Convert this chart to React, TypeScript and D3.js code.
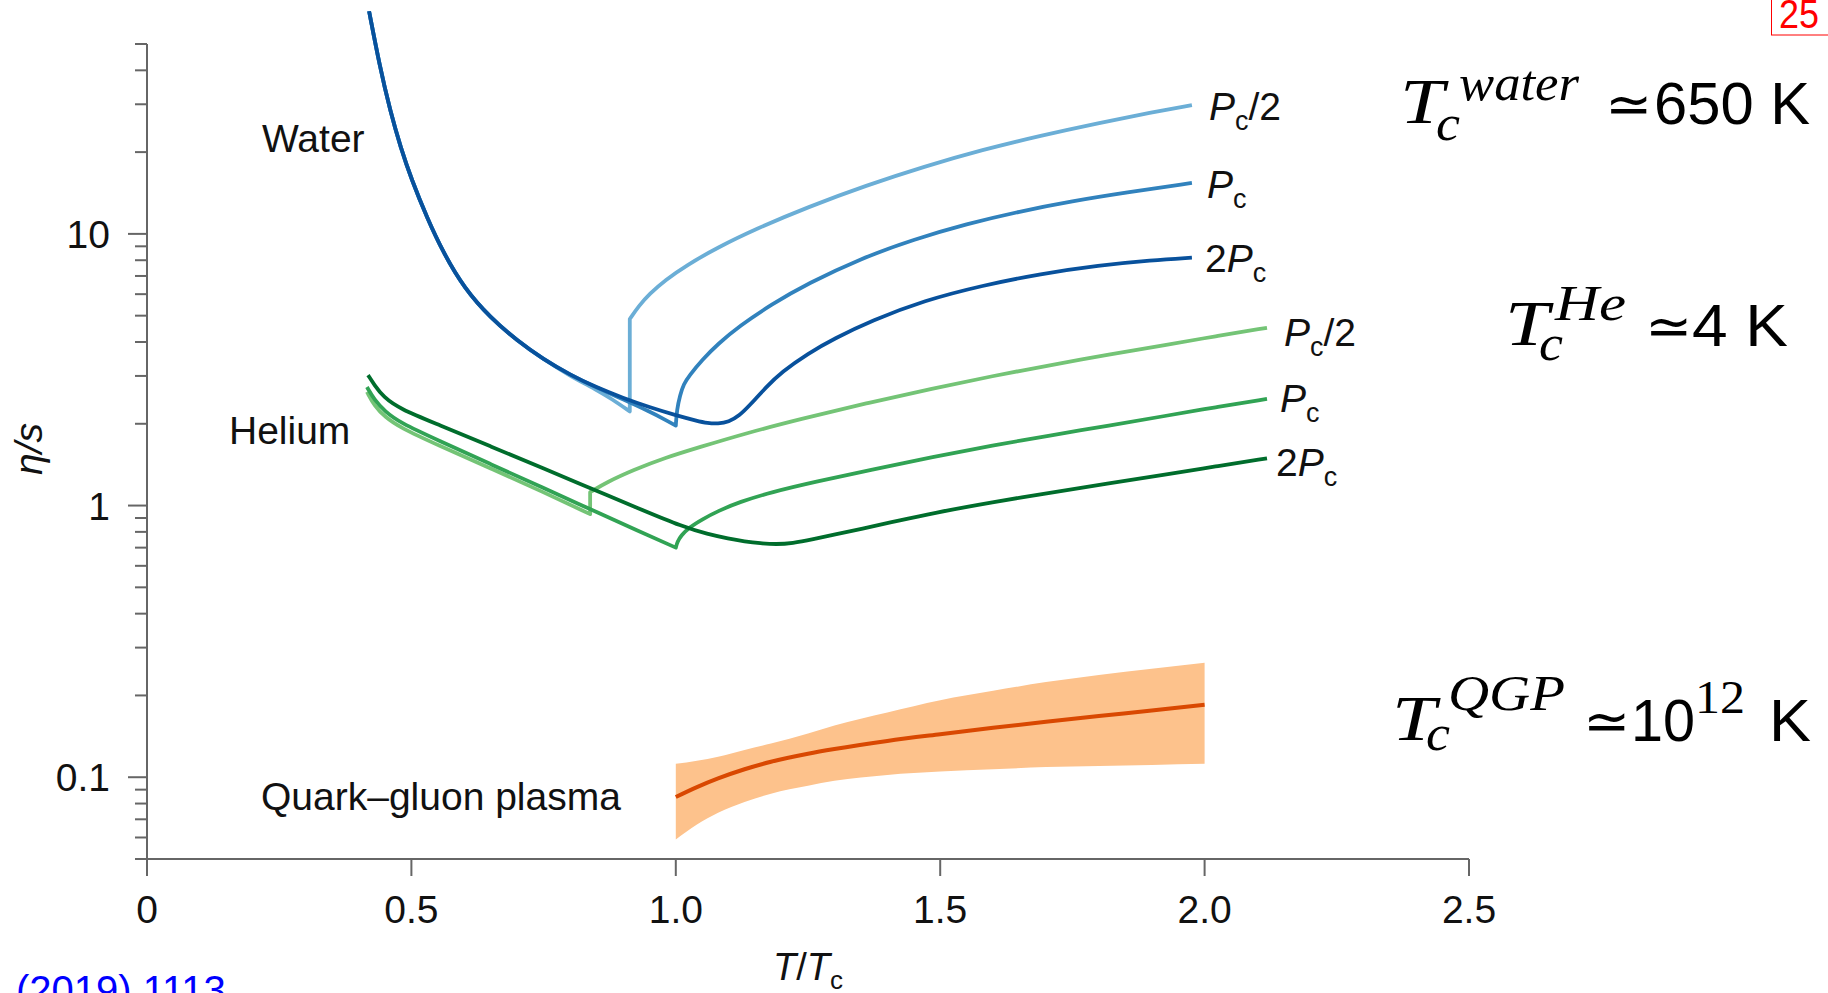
import React from 'react';
import * as d3 from 'd3';

const W = 1828;
const H = 993;

// ---- axis ticks ----
const xTickValues = [0, 0.5, 1.0, 1.5, 2.0, 2.5];
const xTickLabels = ['0', '0.5', '1.0', '1.5', '2.0', '2.5'];
const yMajorValues = [0.1, 1, 10];
const yMajorLabels = ['0.1', '1', '10'];
const yMinorValues = [0.05, 0.06, 0.07, 0.08, 0.09, 0.2, 0.3, 0.4, 0.5, 0.6, 0.7, 0.8, 0.9, 2, 3, 4, 5, 6, 7, 8, 9, 20, 30, 40, 50];

// ---- water (T/Tc, eta/s); a repeated T marks a jump or cusp ----
const waterHalfT = [0.42, 0.44, 0.46, 0.48, 0.50, 0.53, 0.56, 0.60, 0.65, 0.70, 0.75, 0.80, 0.85, 0.88, 0.913, 0.913, 0.93, 0.95, 0.98, 1.02, 1.08, 1.15, 1.25, 1.36, 1.47, 1.58, 1.69, 1.8, 1.9, 1.976];
const waterHalfEta = [66, 41.5, 28.3, 20.7, 15.9, 11.4, 8.55, 6.3, 4.9, 4.05, 3.45, 3.0, 2.67, 2.46, 2.22, 4.86, 5.43, 6.01, 6.76, 7.66, 8.93, 10.4, 12.56, 15.07, 17.7, 20.4, 23.0, 25.6, 28.0, 29.8];

const waterPcT = [0.42, 0.44, 0.46, 0.48, 0.50, 0.53, 0.56, 0.60, 0.65, 0.70, 0.75, 0.80, 0.85, 0.90, 0.95, 0.98, 1.0, 1.0, 1.002, 1.008, 1.015, 1.025, 1.05, 1.08, 1.12, 1.18, 1.25, 1.35, 1.45, 1.55, 1.65, 1.75, 1.85, 1.976];
const waterPcEta = [66, 41.5, 28.3, 20.7, 15.9, 11.4, 8.55, 6.3, 4.9, 4.05, 3.45, 3.03, 2.72, 2.46, 2.22, 2.07, 1.97, 1.97, 2.25, 2.55, 2.8, 3.0, 3.44, 3.94, 4.57, 5.49, 6.57, 8.12, 9.54, 10.88, 12.1, 13.2, 14.18, 15.4];

const water2PcT = [0.42, 0.44, 0.46, 0.48, 0.50, 0.53, 0.56, 0.60, 0.65, 0.70, 0.75, 0.80, 0.85, 0.90, 0.95, 1.0, 1.04, 1.06, 1.08, 1.10, 1.12, 1.14, 1.17, 1.2, 1.25, 1.3, 1.37, 1.47, 1.58, 1.69, 1.8, 1.9, 1.976];
const water2PcEta = [66, 41.5, 28.3, 20.7, 15.9, 11.4, 8.55, 6.3, 4.9, 4.05, 3.45, 3.03, 2.72, 2.49, 2.30, 2.15, 2.05, 2.01, 2.0, 2.03, 2.14, 2.34, 2.72, 3.1, 3.63, 4.12, 4.79, 5.69, 6.46, 7.13, 7.66, 8.0, 8.18];

// ---- helium ----
const heHalfT = [0.416, 0.43, 0.45, 0.478, 0.55, 0.65, 0.75, 0.838, 0.838, 0.87, 0.919, 0.98, 1.045, 1.13, 1.235, 1.36, 1.486, 1.6, 1.706, 1.82, 1.927, 2.02, 2.118];
const heHalfEta = [2.62, 2.33, 2.12, 1.94, 1.67, 1.37, 1.12, 0.93, 1.12, 1.22, 1.35, 1.5, 1.64, 1.84, 2.08, 2.38, 2.7, 3.0, 3.28, 3.6, 3.9, 4.2, 4.51];

const hePcT = [0.416, 0.43, 0.45, 0.478, 0.55, 0.65, 0.75, 0.838, 0.93, 1.0, 1.0, 1.003, 1.01, 1.025, 1.05, 1.08, 1.12, 1.18, 1.265, 1.37, 1.486, 1.6, 1.706, 1.82, 1.927, 2.02, 2.118];
const hePcEta = [2.73, 2.45, 2.22, 2.02, 1.74, 1.42, 1.16, 0.97, 0.805, 0.70, 0.70, 0.735, 0.775, 0.83, 0.89, 0.955, 1.03, 1.12, 1.225, 1.355, 1.51, 1.665, 1.81, 1.97, 2.14, 2.30, 2.47];

const he2PcT = [0.418, 0.43, 0.447, 0.478, 0.55, 0.65, 0.75, 0.838, 0.93, 1.014, 1.06, 1.1, 1.13, 1.16, 1.19, 1.22, 1.26, 1.3, 1.35, 1.42, 1.486, 1.6, 1.706, 1.82, 1.927, 2.02, 2.118];
const he2PcEta = [3.02, 2.78, 2.51, 2.27, 1.99, 1.65, 1.37, 1.16, 0.975, 0.834, 0.785, 0.755, 0.738, 0.726, 0.72, 0.726, 0.752, 0.782, 0.82, 0.879, 0.938, 1.03, 1.114, 1.208, 1.30, 1.392, 1.493];

// ---- quark-gluon plasma ----
const qgpT = [1.0, 1.04, 1.08, 1.13, 1.18, 1.25, 1.3, 1.4, 1.5, 1.6, 1.7, 1.8, 1.9, 2.0];
const qgpMid = [0.0846, 0.092, 0.099, 0.107, 0.114, 0.122, 0.127, 0.136, 0.144, 0.152, 0.16, 0.168, 0.176, 0.185];
const qgpUpper = [0.112, 0.115, 0.119, 0.126, 0.133, 0.145, 0.155, 0.173, 0.192, 0.208, 0.224, 0.238, 0.251, 0.264];
const qgpLower = [0.059, 0.067, 0.074, 0.081, 0.087, 0.093, 0.097, 0.102, 0.105, 0.107, 0.109, 0.110, 0.111, 0.112];

const sans = '"Liberation Sans", Arial, Helvetica, sans-serif';
const serif = '"Liberation Serif", "Times New Roman", serif';
const dejavu = '"DejaVu Sans", sans-serif';

const x = d3.scaleLinear().domain([0, 2.5]).range([147, 1469]);
const y = d3.scaleLog().domain([0.05, 50]).range([859, 44]);

function pathFor(ts: number[], vs: number[]): string {
  const pts: [number, number][] = ts.map((t, i) => [t, vs[i]]);
  const pieces: [number, number][][] = [];
  let cur: [number, number][] = [pts[0]];
  for (let i = 1; i < pts.length; i++) {
    if (pts[i][0] === pts[i - 1][0]) {
      pieces.push(cur);
      pieces.push([pts[i - 1], pts[i]]);
      cur = [pts[i]];
    } else cur.push(pts[i]);
  }
  pieces.push(cur);
  const gen = d3.line<[number, number]>().x(d => x(d[0])).y(d => y(d[1]));
  return pieces
    .filter(p => p.length > 1)
    .map((p, k) => {
      gen.curve(p.length === 2 ? d3.curveLinear : d3.curveBasis);
      let s = gen(p) || '';
      if (k > 0) s = 'L' + s.slice(1);
      return s;
    })
    .join('');
}

const series = [
  { t: waterHalfT, v: waterHalfEta, color: '#6baed6' },
  { t: waterPcT, v: waterPcEta, color: '#3182bd' },
  { t: water2PcT, v: water2PcEta, color: '#08519c' },
  { t: heHalfT, v: heHalfEta, color: '#74c476' },
  { t: hePcT, v: hePcEta, color: '#31a354' },
  { t: he2PcT, v: he2PcEta, color: '#006d2c' },
];

const PLabel = ({ px, py, pre, post }: { px: number; py: number; pre?: string; post?: string }) => (
  <text x={px} y={py} fontFamily={sans} fontSize={39} fill="#111">
    {pre ? <tspan>{pre}</tspan> : null}
    <tspan fontStyle="italic">P</tspan>
    <tspan fontSize={27} dy={10}>c</tspan>
    {post ? <tspan dy={-10}>{post}</tspan> : null}
  </text>
);

const axisColor = '#666';

export default function App() {
  const band = d3
    .area<number>()
    .x((_, i) => x(qgpT[i]))
    .y0((_, i) => y(qgpLower[i]))
    .y1((_, i) => y(qgpUpper[i]))
    .curve(d3.curveMonotoneX)(qgpT) || '';
  const mid = d3
    .line<number>()
    .x((_, i) => x(qgpT[i]))
    .y((_, i) => y(qgpMid[i]))
    .curve(d3.curveMonotoneX)(qgpT) || '';

  return (
    <svg width={W} height={H} style={{ position: 'absolute', left: 0, top: 0, background: '#fff' }}>
      <rect x={0} y={0} width={W} height={H} fill="#fff" />
      {/* axes */}
      <line x1={147} x2={147} y1={y(50)} y2={876} stroke={axisColor} strokeWidth={2} />
      <line x1={135} x2={x(2.5)} y1={y(0.05)} y2={y(0.05)} stroke={axisColor} strokeWidth={2} />
      {xTickValues.map((v, i) => (
        <g key={'xt' + i}>
          <line x1={x(v)} x2={x(v)} y1={859} y2={876} stroke={axisColor} strokeWidth={2} />
          <text x={x(v)} y={923} textAnchor="middle" fontFamily={sans} fontSize={39} fill="#111">
            {xTickLabels[i]}
          </text>
        </g>
      ))}
      {yMajorValues.map((v, i) => (
        <g key={'ym' + i}>
          <line x1={128} x2={147} y1={y(v)} y2={y(v)} stroke={axisColor} strokeWidth={2} />
          <text x={110} y={y(v) + 14} textAnchor="end" fontFamily={sans} fontSize={39} fill="#111">
            {yMajorLabels[i]}
          </text>
        </g>
      ))}
      {yMinorValues.map((v, i) => (
        <line key={'yn' + i} x1={135} x2={147} y1={y(v)} y2={y(v)} stroke={axisColor} strokeWidth={2} />
      ))}
      <text transform="translate(42,449) rotate(-90)" textAnchor="middle" fontFamily={sans} fontSize={39} fontStyle="italic" fill="#111">
        η/s
      </text>
      <text x={808} y={980} textAnchor="middle" fontFamily={sans} fontSize={38} fill="#111">
        <tspan fontStyle="italic">T</tspan>
        <tspan>/</tspan>
        <tspan fontStyle="italic">T</tspan>
        <tspan fontSize={26} dy={9}>c</tspan>
      </text>

      {/* QGP band */}
      <path d={band} fill="#fdc28c" stroke="none" />
      <path d={mid} fill="none" stroke="#d94801" strokeWidth={4} />

      {/* curves */}
      {series.map((s, i) => (
        <path key={'s' + i} d={pathFor(s.t, s.v)} fill="none" stroke={s.color} strokeWidth={3.8} strokeLinejoin="round" />
      ))}

      {/* curve labels */}
      <text x={262} y={152} fontFamily={sans} fontSize={39} fill="#111">Water</text>
      <text x={229} y={444} fontFamily={sans} fontSize={39} fill="#111">Helium</text>
      <text x={261} y={810} fontFamily={sans} fontSize={39} fill="#111">Quark–gluon plasma</text>

      <PLabel px={1209} py={120} post="/2" />
      <PLabel px={1207} py={198} />
      <PLabel px={1205} py={272} pre="2" />
      <PLabel px={1284} py={346} post="/2" />
      <PLabel px={1280} py={412} />
      <PLabel px={1276} py={476} pre="2" />

      {/* right annotations */}
      <g fill="#000">
        <text x={1400} y={123} fontFamily={serif} fontStyle="italic" fontSize={64} textLength={44} lengthAdjust="spacingAndGlyphs">T</text>
        <text x={1436} y={140} fontFamily={serif} fontStyle="italic" fontSize={50} textLength={24} lengthAdjust="spacingAndGlyphs">c</text>
        <text x={1459} y={100} fontFamily={serif} fontStyle="italic" fontSize={50} textLength={120} lengthAdjust="spacingAndGlyphs">water</text>
        <text x={1605} y={123} fontFamily={dejavu} fontSize={54} textLength={47} lengthAdjust="spacingAndGlyphs">≃</text>
        <text x={1654} y={124} fontFamily={sans} fontSize={59} textLength={156} lengthAdjust="spacingAndGlyphs">650 K</text>

        <text x={1505} y={345} fontFamily={serif} fontStyle="italic" fontSize={64} textLength={44} lengthAdjust="spacingAndGlyphs">T</text>
        <text x={1539} y={360} fontFamily={serif} fontStyle="italic" fontSize={50} textLength={24} lengthAdjust="spacingAndGlyphs">c</text>
        <text x={1555} y={320} fontFamily={serif} fontStyle="italic" fontSize={50} textLength={71} lengthAdjust="spacingAndGlyphs">He</text>
        <text x={1645} y={345} fontFamily={dejavu} fontSize={54} textLength={47} lengthAdjust="spacingAndGlyphs">≃</text>
        <text x={1692} y={346} fontFamily={sans} fontSize={60} textLength={96} lengthAdjust="spacingAndGlyphs">4 K</text>

        <text x={1392} y={740} fontFamily={serif} fontStyle="italic" fontSize={64} textLength={44} lengthAdjust="spacingAndGlyphs">T</text>
        <text x={1426} y={750} fontFamily={serif} fontStyle="italic" fontSize={50} textLength={24} lengthAdjust="spacingAndGlyphs">c</text>
        <text x={1448} y={710} fontFamily={serif} fontStyle="italic" fontSize={50} textLength={117} lengthAdjust="spacingAndGlyphs">QGP</text>
        <text x={1583} y={740} fontFamily={dejavu} fontSize={54} textLength={47} lengthAdjust="spacingAndGlyphs">≃</text>
        <text x={1631} y={741} fontFamily={sans} fontSize={60} textLength={64} lengthAdjust="spacingAndGlyphs">10</text>
        <text x={1695} y={713} fontFamily={serif} fontSize={46} textLength={50} lengthAdjust="spacingAndGlyphs">12</text>
        <text x={1769} y={741} fontFamily={sans} fontSize={60} textLength={42} lengthAdjust="spacingAndGlyphs">K</text>
      </g>

      {/* page artifacts */}
      <text x={16} y={1004} fontFamily={sans} fontSize={40} fill="#0000ff">(2019) 1113</text>
      <rect x={1771.5} y={-5} width={70} height={40} fill="none" stroke="#ff0000" strokeWidth={1} />
      <text x={1779} y={28} fontFamily={sans} fontSize={40} fill="#ff0000" textLength={40} lengthAdjust="spacingAndGlyphs">25</text>
    </svg>
  );
}
